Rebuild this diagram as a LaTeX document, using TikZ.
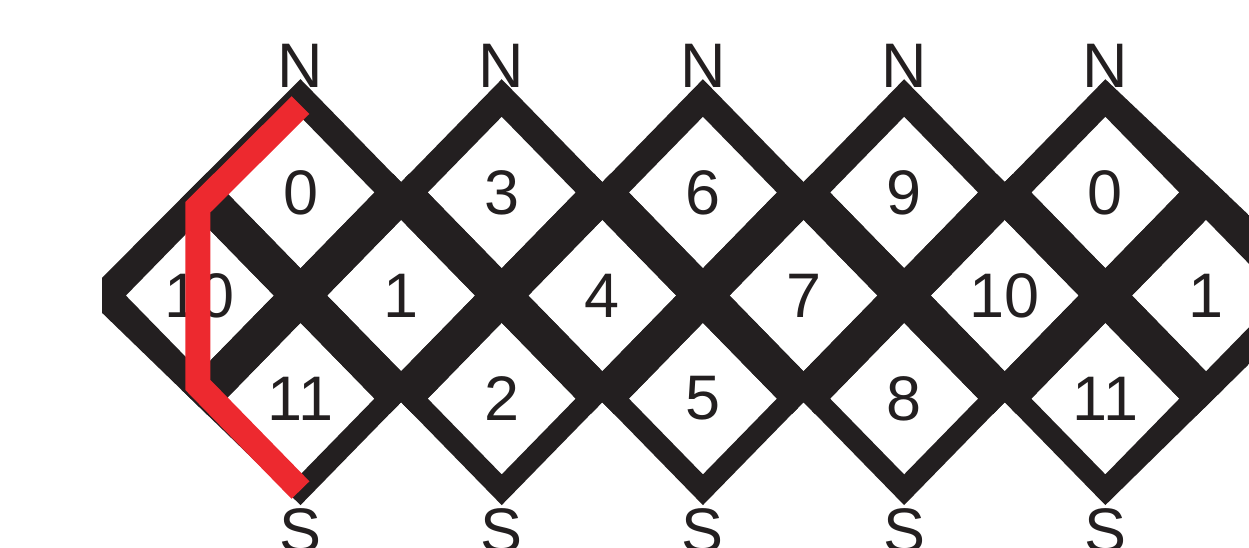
\documentclass[tikz,border=0pt]{standalone}
\usepackage{fontspec}
\setmainfont{Liberation Sans}
\usetikzlibrary{positioning}
\definecolor{latticeblack}{RGB}{35,31,32}
\definecolor{voicered}{RGB}{237,41,47}
\tikzset{
    latticeedge/.style={draw=latticeblack, line width=10.75pt, line join=miter},
    pitchlabel/.style={font=\fontsize{17.8}{20}\selectfont, text=latticeblack, inner sep=0pt},
    polelabel/.style={font=\fontsize{17.8}{20}\selectfont, text=latticeblack, inner sep=0pt, anchor=base},
    voiceline/.style={draw=voicered, line width=7.07pt, line join=miter}
}

\begin{document}
\begin{tikzpicture}[x=1cm, y=1.024cm]
    \useasboundingbox (-2.987,-2.442) rectangle (9.428,2.869);

    % lattice of cells
    \begin{scope}
        \clip (-1.973,-2.442) rectangle (9.428,2.869);
        \clip (-2.15,0) -- (0,2.1) -- (1,1.1) -- (2,2.1) -- (3,1.1) -- (4,2.1) -- (5,1.1) -- (6,2.1)
            -- (7,1.1) -- (8,2.1) -- (9.6,0.62) -- (9.6,-0.5) -- (8,-2.034) -- (7,-1.034) -- (6,-2.034)
            -- (5,-1.034) -- (4,-2.034) -- (3,-1.034) -- (2,-2.034) -- (1,-1.034) -- (0,-2.034) -- cycle;
        \foreach \cx/\cy in {0/1,2/1,4/1,6/1,8/1,-1/0,1/0,3/0,5/0,7/0,9/0,0/-1,2/-1,4/-1,6/-1,8/-1}
            \draw[latticeedge] (\cx,\cy+1) -- (\cx+1,\cy) -- (\cx,\cy-1) -- (\cx-1,\cy) -- cycle;
    \end{scope}

    % pitch classes
    \foreach \pc [count=\k from 0] in {0,3,6,9,0}
        \node[pitchlabel] (top\k) at ({2*\k},1) {\pc};
    \foreach \pc [count=\k from 0] in {10,1,4,7,10,1}
        \node[pitchlabel] (mid\k) at ({2*\k-1},0) {\pc};
    \foreach \pc [count=\k from 0] in {11,2,5,8,11}
        \node[pitchlabel] (bot\k) at ({2*\k},-1) {\pc};

    % poles
    \foreach \k in {0,...,4} {
        \node[polelabel] (north\k) at ({2*\k},2.015) {N};
        \node[polelabel] (south\k) at ({2*\k},-2.49) {S};
    }

    % voice path
    \coordinate (voicestart) at (0,1.849);
    \coordinate (voiceupper) at (-1.019,0.859);
    \coordinate (voicelower) at (-1.019,-0.869);
    \coordinate (voiceend) at (0,-1.888);
    \draw[voiceline] (voicestart) -- (voiceupper) -- (voicelower) -- (voiceend);
\end{tikzpicture}
\end{document}
